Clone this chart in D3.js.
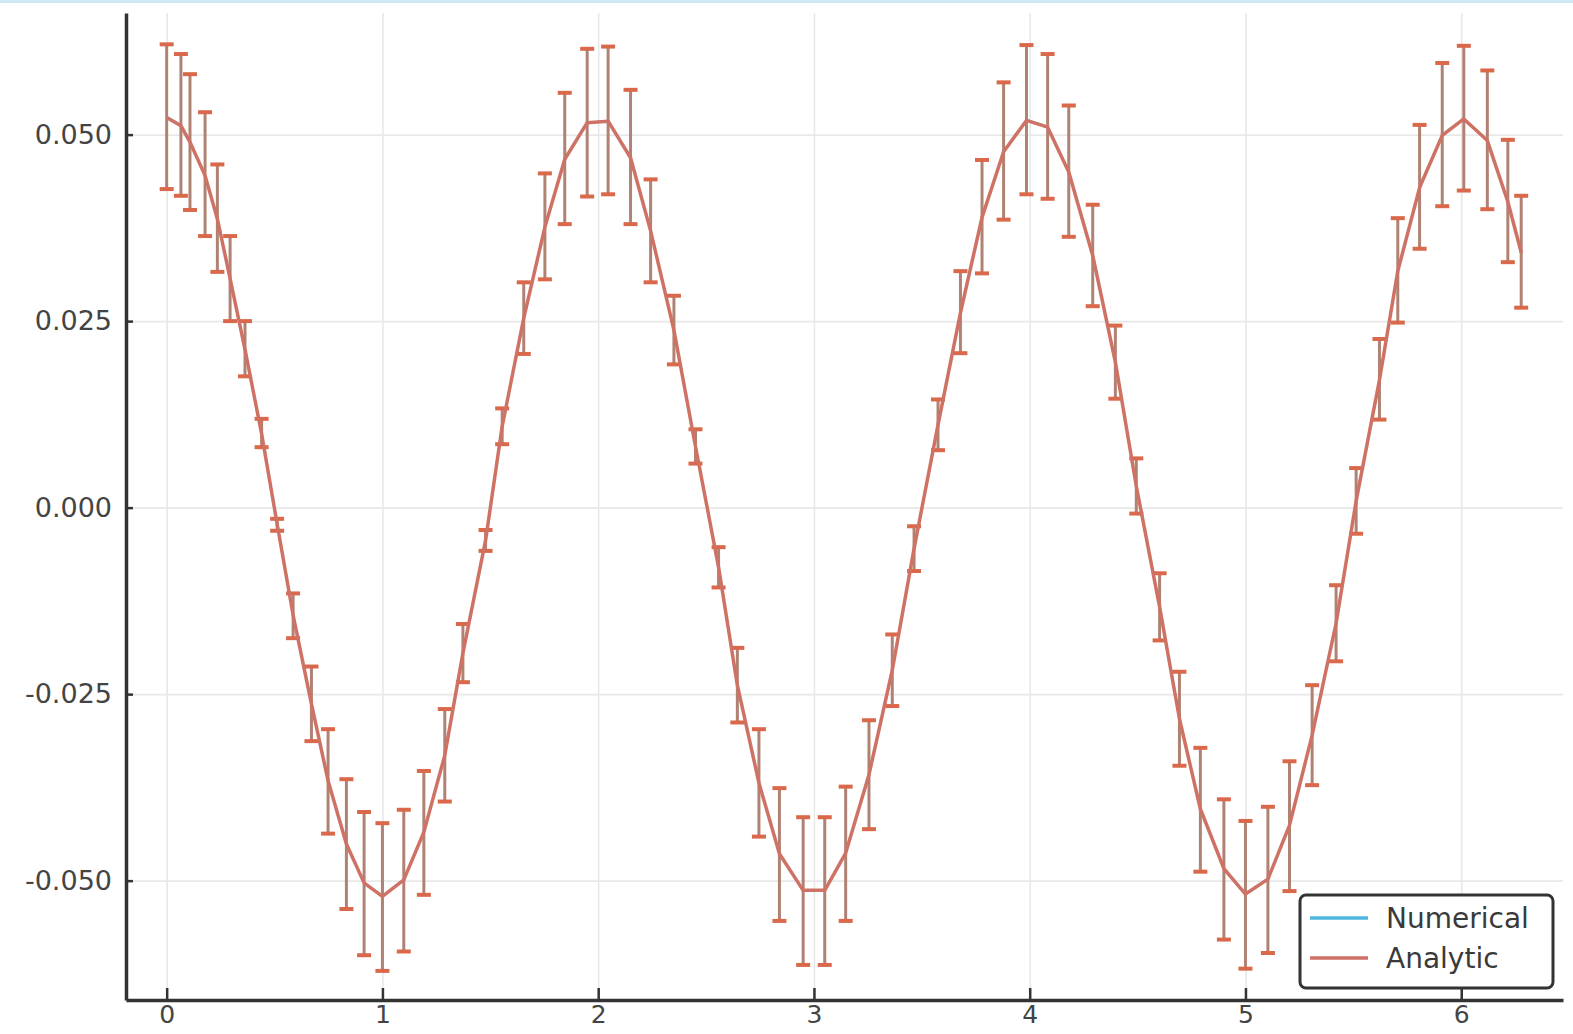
<!DOCTYPE html>
<html>
<head>
<meta charset="utf-8">
<script src="https://cdn.jsdelivr.net/npm/d3@7"></script>
<style>
  body { margin: 0; background: #fff; }
  .axis text { font-family: "DejaVu Sans", sans-serif; font-size: 27px; fill: #444; }
  .axis.x text { font-size: 25px; }
  .axis path, .axis line { stroke: #333; }
  .grid line { stroke: #e8e8e8; stroke-width: 1.6; }
  .grid path { display: none; }
  .legend text { font-family: "DejaVu Sans", sans-serif; font-size: 28px; fill: #3a3a3a; }
</style>
</head>
<body>
<div id="graf"></div>
<script>
// pasos de tiempo del solver (eje x)
const tiempo = [
  0.000, 0.066, 0.108, 0.178, 0.235, 0.294, 0.363, 0.440, 0.512, 0.586,
  0.671, 0.748, 0.833, 0.915, 1.000, 1.099, 1.192, 1.289, 1.373, 1.478,
  1.555, 1.655, 1.753, 1.845, 1.949, 2.046, 2.150, 2.243, 2.351, 2.451,
  2.558, 2.645, 2.745, 2.840, 2.950, 3.050, 3.147, 3.255, 3.363, 3.464,
  3.575, 3.679, 3.779, 3.879, 3.985, 4.083, 4.181, 4.292, 4.397, 4.494,
  4.602, 4.694, 4.791, 4.900, 5.000, 5.104, 5.204, 5.309, 5.420, 5.513,
  5.621, 5.706, 5.807, 5.912, 6.012, 6.121, 6.216, 6.278
]

// solucion numerica
const numerical = [
  0.0524, 0.0513, 0.0490, 0.0447, 0.0388, 0.0307, 0.0213, 0.0100, -0.0023, -0.0145,
  -0.0263, -0.0367, -0.0451, -0.0504, -0.0522, -0.0500, -0.0436, -0.0332, -0.0195, -0.0044,
  0.0109, 0.0254, 0.0377, 0.0468, 0.0516, 0.0519, 0.0470, 0.0371, 0.0238, 0.0082,
  -0.0080, -0.0238, -0.0369, -0.0465, -0.0514, -0.0514, -0.0464, -0.0358, -0.0218, -0.0055,
  0.0111, 0.0262, 0.0390, 0.0478, 0.0520, 0.0511, 0.0451, 0.0338, 0.0195, 0.0029,
  -0.0133, -0.0283, -0.0405, -0.0485, -0.0519, -0.0499, -0.0427, -0.0305, -0.0155, 0.0009,
  0.0172, 0.0318, 0.0430, 0.0500, 0.0522, 0.0493, 0.0411, 0.0343
]

// barras de error de la solucion numerica
const errores = [
  0.0097, 0.0095, 0.0091, 0.0083, 0.0072, 0.0057, 0.0037, 0.0019, 0.0008, 0.0030,
  0.0050, 0.0070, 0.0087, 0.0096, 0.0099, 0.0095, 0.0083, 0.0062, 0.0039, 0.0014,
  0.0024, 0.0048, 0.0071, 0.0088, 0.0099, 0.0099, 0.0090, 0.0069, 0.0046, 0.0023,
  0.0027, 0.0050, 0.0072, 0.0089, 0.0099, 0.0099, 0.0090, 0.0073, 0.0048, 0.0030,
  0.0034, 0.0055, 0.0076, 0.0092, 0.0100, 0.0097, 0.0088, 0.0068, 0.0049, 0.0037,
  0.0045, 0.0063, 0.0083, 0.0094, 0.0099, 0.0098, 0.0087, 0.0067, 0.0051, 0.0044,
  0.0054, 0.0070, 0.0083, 0.0096, 0.0097, 0.0093, 0.0082, 0.0075
]

// solucion analitica
const analytic = [
  0.0523, 0.0512, 0.0490, 0.0445, 0.0387, 0.0307, 0.0212, 0.0099, -0.0022, -0.0144,
  -0.0263, -0.0366, -0.0451, -0.0503, -0.0521, -0.0499, -0.0435, -0.0332, -0.0195, -0.0044,
  0.0109, 0.0254, 0.0376, 0.0467, 0.0516, 0.0518, 0.0469, 0.0371, 0.0238, 0.0082,
  -0.0080, -0.0238, -0.0369, -0.0464, -0.0513, -0.0513, -0.0463, -0.0358, -0.0218, -0.0055,
  0.0111, 0.0261, 0.0389, 0.0477, 0.0519, 0.0510, 0.0450, 0.0338, 0.0195, 0.0029,
  -0.0133, -0.0283, -0.0404, -0.0484, -0.0518, -0.0498, -0.0426, -0.0305, -0.0155, 0.0009,
  0.0171, 0.0317, 0.0429, 0.0499, 0.0521, 0.0492, 0.0410, 0.0342
]

const xTicks = [0, 1, 2, 3, 4, 5, 6]
const yTicks = [-0.05, -0.025, 0, 0.025, 0.05]
const nombres = ["Numerical", "Analytic"]
const colores = ["#4fb8e2", "#cf7266"]

const graf = d3.select("#graf")

const margins = { top: 13, right: 10, bottom: 34, left: 126 }
const anchoTotal = 1573
const altoTotal = 1034
const ancho = 1563 - margins.left
const alto = 1000 - margins.top

const svg = graf
  .append("svg")
  .attr("width", anchoTotal)
  .attr("height", altoTotal)

// franja azul superior de la captura
svg.append("rect")
  .attr("x", 0).attr("y", 0)
  .attr("width", anchoTotal).attr("height", 3)
  .attr("fill", "#cfe6f3")

const g = svg
  .append("g")
  .attr("transform", `translate(${margins.left}, ${margins.top})`)

// Escaladores
const x = d3.scaleLinear().domain([-0.1885, 6.4717]).range([0, ancho])
const y = d3.scaleLinear().domain([-0.0660, 0.0663]).range([alto, 0])

// rejilla
g.append("g")
  .classed("grid", true)
  .call(d3.axisLeft(y).tickValues(yTicks).tickSize(-ancho).tickFormat(""))
g.append("g")
  .classed("grid", true)
  .attr("transform", `translate(0, ${alto})`)
  .call(d3.axisBottom(x).tickValues(xTicks).tickSize(-alto).tickFormat(""))

const linea = (serie) => d3.line()
  .x((d, i) => x(tiempo[i]))
  .y((d) => y(d))(serie)

g.append("path")
  .attr("d", linea(numerical))
  .attr("fill", "none")
  .attr("stroke", colores[0])
  .attr("stroke-width", 1.5)

// barras de error
const barras = g.append("g")
tiempo.forEach((t, i) => {
  const y0 = y(numerical[i] - errores[i])
  const y1 = y(numerical[i] + errores[i])
  barras.append("line")
    .attr("x1", x(t)).attr("x2", x(t))
    .attr("y1", y0).attr("y2", y1)
    .attr("stroke", "#b08274")
    .attr("stroke-width", 3)
  ;[y0, y1].forEach((yy) => {
    barras.append("line")
      .attr("x1", x(t) - 7).attr("x2", x(t) + 7)
      .attr("y1", yy).attr("y2", yy)
      .attr("stroke", "#d9694a")
      .attr("stroke-width", 4)
  })
})

g.append("path")
  .attr("d", linea(analytic))
  .attr("fill", "none")
  .attr("stroke", colores[1])
  .attr("stroke-width", 3.5)
  .attr("stroke-linejoin", "round")

// ejes
const yAxis = d3.axisLeft(y)
  .tickValues(yTicks)
  .tickSizeInner(-7)
  .tickSizeOuter(0)
  .tickPadding(14)
  .tickFormat((d) => d.toFixed(3))
const yAxisGroup = g.append("g").classed("axis", true).call(yAxis)

const xAxis = d3.axisBottom(x)
  .tickValues(xTicks)
  .tickSizeInner(-12)
  .tickSizeOuter(0)
  .tickPadding(5)
  .tickFormat(d3.format("d"))
const xAxisGroup = g.append("g")
  .classed("axis x", true)
  .attr("transform", `translate(0, ${alto})`)
  .call(xAxis)

g.selectAll(".axis path").attr("stroke-width", 3.5)
g.selectAll(".axis line").attr("stroke-width", 2.5)

// leyenda
const leyenda = svg.append("g").classed("legend", true)
leyenda.append("rect")
  .attr("x", 1300).attr("y", 895)
  .attr("width", 253).attr("height", 93)
  .attr("rx", 6)
  .attr("fill", "#fff")
  .attr("stroke", "#333")
  .attr("stroke-width", 3)
nombres.forEach((n, i) => {
  const yy = 918 + i * 40
  leyenda.append("line")
    .attr("x1", 1310).attr("x2", 1368)
    .attr("y1", yy).attr("y2", yy)
    .attr("stroke", colores[i])
    .attr("stroke-width", 3.5)
  leyenda.append("text")
    .attr("x", 1386).attr("y", yy)
    .attr("dy", "0.35em")
    .text(n)
})
</script>
</body>
</html>
